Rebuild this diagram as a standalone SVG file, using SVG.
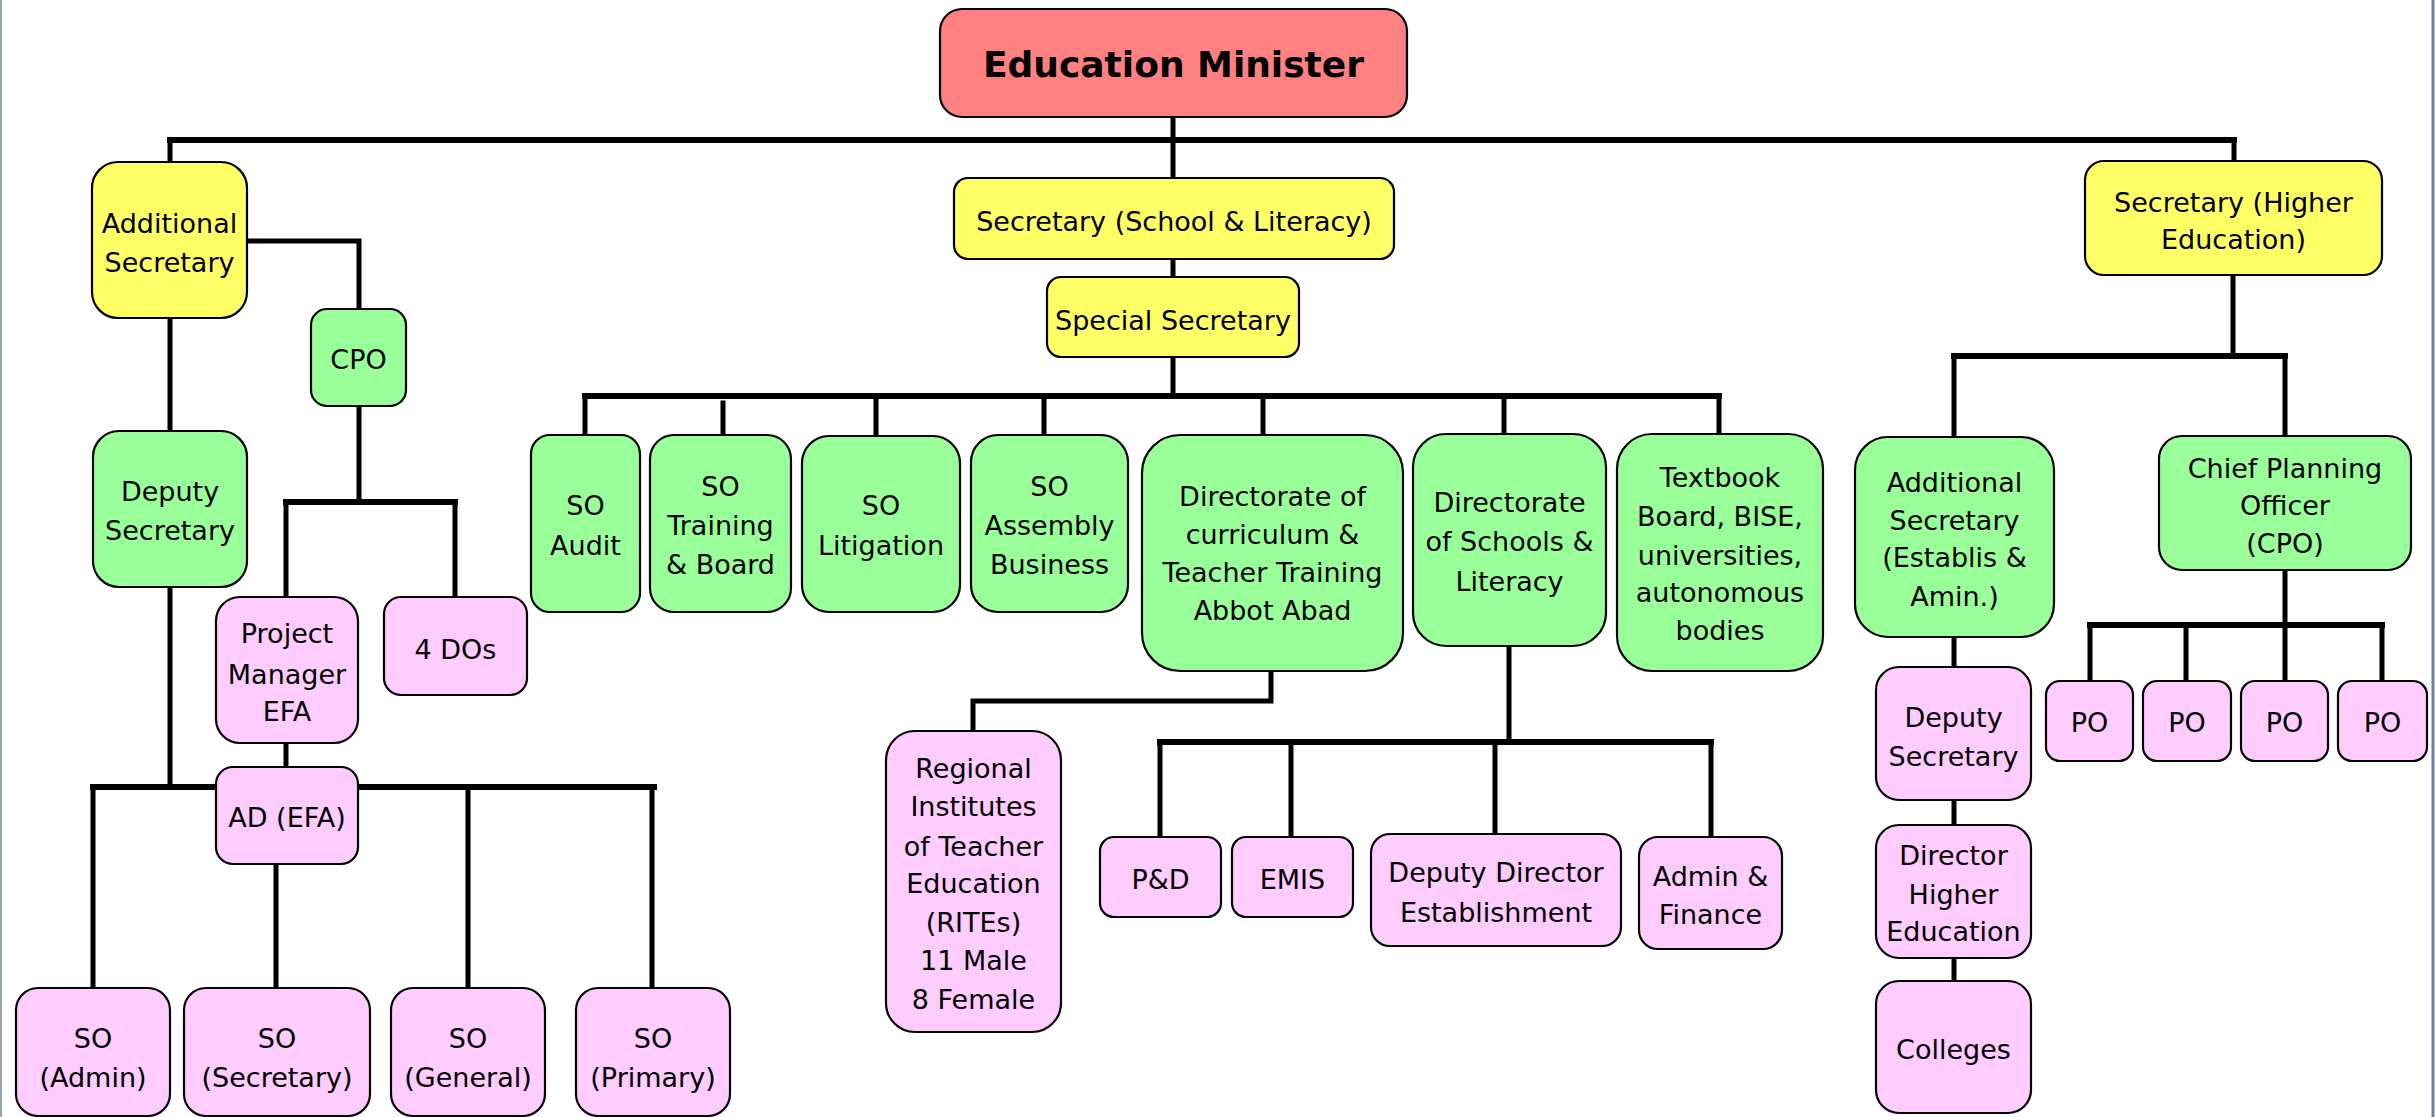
<svg xmlns="http://www.w3.org/2000/svg" width="2435" height="1117" viewBox="0 0 2435 1117">
<style>
.n{stroke:#000;stroke-width:2.2}
.r{fill:#FF8080}.y{fill:#FFFF66}.g{fill:#99FF99}.p{fill:#FFCCFF}
text{font-family:"DejaVu Sans","Verdana",sans-serif;font-size:27px;fill:#000;text-anchor:middle}
.b{font-weight:bold;font-size:36px}
#connectors path{fill:none;stroke:#000;stroke-width:5;stroke-linecap:square}
#connectors .bar{stroke-width:6}
</style>
<rect x="0" y="0" width="2435" height="1117" fill="#fff"/>
<line x1="1" y1="0" x2="1" y2="1117" stroke="#8FA3BF" stroke-width="2"/>
<line x1="2433" y1="0" x2="2433" y2="1117" stroke="#6A82A4" stroke-width="3"/>
<g id="connectors">
<path class="bar" d="M170,140 H2234"/>
<path d="M1173,117 V178 M170,140 V162 M2234,140 V161"/>
<path d="M247,241 H359 V309 M170,318 V431"/>
<path d="M359,406 V502 M286,502 V597 M455,502 V597 M286,743 V767"/>
<path class="bar" d="M286,502 H455"/>
<path d="M170,587 V787 M93,787 V988 M276,864 V988 M468,787 V988 M652,787 V988"/>
<path class="bar" d="M93,787 H654"/>
<path d="M1173,259 V277 M1173,357 V396"/>
<path class="bar" d="M585,396 H1719"/>
<path d="M585,396 V435 M723,403 V435 M876,396 V436 M1044,396 V435 M1263,396 V435 M1504,396 V434 M1719,396 V434"/>
<path d="M1271,671 V701 H973 V731"/>
<path d="M1509,646 V742 M1160,742 V837 M1291,742 V837 M1495,742 V834 M1711,742 V837"/>
<path class="bar" d="M1160,742 H1711"/>
<path d="M2233,275 V356 M1954,356 V437 M2285,356 V436"/>
<path class="bar" d="M1954,356 H2285"/>
<path d="M1954,637 V667 M1954,800 V825 M1954,958 V981"/>
<path d="M2285,570 V681 M2090,625 V681 M2186,625 V681 M2382,625 V681"/>
<path class="bar" d="M2090,625 H2382"/>
</g>
<g id="minister"><rect class="n r" x="940" y="9" width="467" height="108" rx="22"/><text class="b" x="1173.5" y="77">Education Minister</text></g>
<g id="addsec-left"><rect class="n y" x="92" y="162" width="155" height="156" rx="26"/><text x="169.5" y="233">Additional</text><text x="169.5" y="272">Secretary</text></g>
<g id="cpo-left"><rect class="n g" x="311" y="309" width="95" height="97" rx="16"/><text x="358.5" y="369">CPO</text></g>
<g id="depsec-left"><rect class="n g" x="93" y="431" width="154" height="156" rx="26"/><text x="170" y="501">Deputy</text><text x="170" y="540">Secretary</text></g>
<g id="pm-efa"><rect class="n p" x="216" y="597" width="142" height="146" rx="24"/><text x="287" y="643">Project</text><text x="287" y="684">Manager</text><text x="287" y="721">EFA</text></g>
<g id="four-dos"><rect class="n p" x="384" y="597" width="143" height="98" rx="17"/><text x="455.5" y="659">4 DOs</text></g>
<g id="ad-efa"><rect class="n p" x="216" y="767" width="142" height="97" rx="17"/><text x="287" y="827">AD (EFA)</text></g>
<g id="so-admin"><rect class="n p" x="16" y="988" width="154" height="128" rx="22"/><text x="93" y="1048">SO</text><text x="93" y="1087">(Admin)</text></g>
<g id="so-secretary"><rect class="n p" x="184" y="988" width="186" height="128" rx="22"/><text x="277" y="1048">SO</text><text x="277" y="1087">(Secretary)</text></g>
<g id="so-general"><rect class="n p" x="391" y="988" width="154" height="128" rx="22"/><text x="468" y="1048">SO</text><text x="468" y="1087">(General)</text></g>
<g id="so-primary"><rect class="n p" x="576" y="988" width="154" height="128" rx="22"/><text x="653" y="1048">SO</text><text x="653" y="1087">(Primary)</text></g>
<g id="sec-school"><rect class="n y" x="954" y="178" width="440" height="81" rx="14"/><text x="1174" y="231">Secretary (School &amp; Literacy)</text></g>
<g id="special-sec"><rect class="n y" x="1047" y="277" width="252" height="80" rx="14"/><text x="1173" y="330">Special Secretary</text></g>
<g id="so-audit"><rect class="n g" x="531" y="435" width="109" height="177" rx="19"/><text x="585.5" y="515">SO</text><text x="585.5" y="555">Audit</text></g>
<g id="so-training"><rect class="n g" x="650" y="435" width="141" height="177" rx="24"/><text x="720.5" y="496">SO</text><text x="720.5" y="535">Training</text><text x="720.5" y="574">&amp; Board</text></g>
<g id="so-litigation"><rect class="n g" x="802" y="436" width="158" height="176" rx="27"/><text x="881" y="515">SO</text><text x="881" y="555">Litigation</text></g>
<g id="so-assembly"><rect class="n g" x="971" y="435" width="157" height="177" rx="27"/><text x="1049.5" y="496">SO</text><text x="1049.5" y="535">Assembly</text><text x="1049.5" y="574">Business</text></g>
<g id="dir-curriculum"><rect class="n g" x="1142" y="435" width="261" height="236" rx="38"/><text x="1272.5" y="506">Directorate of</text><text x="1272.5" y="544">curriculum &amp;</text><text x="1272.5" y="582">Teacher Training</text><text x="1272.5" y="620">Abbot Abad</text></g>
<g id="dir-schools"><rect class="n g" x="1413" y="434" width="193" height="212" rx="33"/><text x="1509.5" y="512">Directorate</text><text x="1509.5" y="551">of Schools &amp;</text><text x="1509.5" y="591">Literacy</text></g>
<g id="textbook"><rect class="n g" x="1617" y="434" width="206" height="237" rx="35"/><text x="1720" y="487">Textbook</text><text x="1720" y="526">Board, BISE,</text><text x="1720" y="565">universities,</text><text x="1720" y="602">autonomous</text><text x="1720" y="640">bodies</text></g>
<g id="rites"><rect class="n p" x="886" y="731" width="175" height="301" rx="29"/><text x="973.5" y="778">Regional</text><text x="973.5" y="816">Institutes</text><text x="973.5" y="856">of Teacher</text><text x="973.5" y="893">Education</text><text x="973.5" y="932">(RITEs)</text><text x="973.5" y="970">11 Male</text><text x="973.5" y="1009">8 Female</text></g>
<g id="pd"><rect class="n p" x="1100" y="837" width="121" height="80" rx="14"/><text x="1160.5" y="889">P&amp;D</text></g>
<g id="emis"><rect class="n p" x="1232" y="837" width="121" height="80" rx="14"/><text x="1292.5" y="889">EMIS</text></g>
<g id="dd-establishment"><rect class="n p" x="1371" y="834" width="250" height="112" rx="19"/><text x="1496" y="882">Deputy Director</text><text x="1496" y="922">Establishment</text></g>
<g id="admin-finance"><rect class="n p" x="1639" y="837" width="143" height="112" rx="19"/><text x="1710.5" y="886">Admin &amp;</text><text x="1710.5" y="924">Finance</text></g>
<g id="sec-higher"><rect class="n y" x="2085" y="161" width="297" height="114" rx="19"/><text x="2233.5" y="212">Secretary (Higher</text><text x="2233.5" y="249">Education)</text></g>
<g id="addsec-right"><rect class="n g" x="1855" y="437" width="199" height="200" rx="33"/><text x="1954.5" y="492">Additional</text><text x="1954.5" y="530">Secretary</text><text x="1954.5" y="567">(Establis &amp;</text><text x="1954.5" y="606">Amin.)</text></g>
<g id="cpo-right"><rect class="n g" x="2159" y="436" width="252" height="134" rx="23"/><text x="2285" y="478">Chief Planning</text><text x="2285" y="515">Officer</text><text x="2285" y="553">(CPO)</text></g>
<g id="po1"><rect class="n p" x="2046" y="681" width="87" height="80" rx="14"/><text x="2089.5" y="732">PO</text></g>
<g id="po2"><rect class="n p" x="2143" y="681" width="88" height="80" rx="14"/><text x="2187" y="732">PO</text></g>
<g id="po3"><rect class="n p" x="2241" y="681" width="87" height="80" rx="14"/><text x="2284.5" y="732">PO</text></g>
<g id="po4"><rect class="n p" x="2338" y="681" width="89" height="80" rx="14"/><text x="2382.5" y="732">PO</text></g>
<g id="depsec-right"><rect class="n p" x="1876" y="667" width="155" height="133" rx="23"/><text x="1953.5" y="727">Deputy</text><text x="1953.5" y="766">Secretary</text></g>
<g id="dir-higher"><rect class="n p" x="1876" y="825" width="155" height="133" rx="23"/><text x="1953.5" y="865">Director</text><text x="1953.5" y="904">Higher</text><text x="1953.5" y="941">Education</text></g>
<g id="colleges"><rect class="n p" x="1876" y="981" width="155" height="132" rx="23"/><text x="1953.5" y="1059">Colleges</text></g>
</svg>
